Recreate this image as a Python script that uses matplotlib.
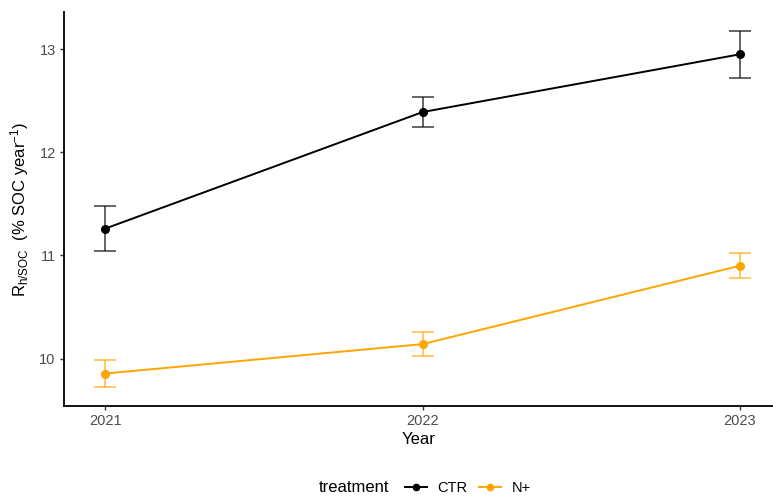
import numpy as np
import matplotlib.pyplot as plt
from matplotlib.lines import Line2D

plt.rcParams['font.family'] = ['Liberation Sans', 'DejaVu Sans']
plt.rcParams['mathtext.fontset'] = 'custom'
plt.rcParams['mathtext.rm'] = 'Liberation Sans'
plt.rcParams['mathtext.it'] = 'Liberation Sans:italic'

# values
years = [2021, 2022, 2023]
ctr_mean = [11.26, 12.39, 12.95]
ctr_se = [0.22, 0.145, 0.23]
nplus_mean = [9.855, 10.14, 10.90]
nplus_se = [0.135, 0.115, 0.12]

ctr_col = "black"
n_col = "#FFA500"

fig = plt.figure(figsize=(7.73, 4.96), dpi=100)
ax = fig.add_axes([64/773, 1-406/496, (773-64)/773, (406-12)/496])

ax.errorbar(years, ctr_mean, yerr=ctr_se, fmt="none", ecolor=ctr_col, alpha=0.65,
            elinewidth=1.3, capsize=8, capthick=1.3)
ax.plot(years, ctr_mean, color=ctr_col, lw=1.4, marker="o", ms=5.5)
ax.errorbar(years, nplus_mean, yerr=nplus_se, fmt="none", ecolor=n_col, alpha=0.65,
            elinewidth=1.3, capsize=8, capthick=1.3)
ax.plot(years, nplus_mean, color=n_col, lw=1.4, marker="o", ms=5.5)

ax.set_xlim(2020.87, 2023.104)
ax.set_ylim(9.54, 13.36)
ax.set_xticks(years)
ax.set_xticklabels([str(y) for y in years])
ax.set_yticks([10, 11, 12, 13])

for s in ["top", "right"]:
    ax.spines[s].set_visible(False)
for s in ["left", "bottom"]:
    ax.spines[s].set_linewidth(1.3)
    ax.spines[s].set_color("black")
ax.tick_params(axis="both", length=3, width=1, color="#333333",
               labelcolor="#4D4D4D", labelsize=10.5, pad=3)

ax.set_xlabel("Year", fontsize=12, labelpad=3)
ax.set_ylabel(r"$\mathregular{R_{h/SOC}}$  (% SOC year$^{-1}$)", fontsize=12, labelpad=6)

handles = [Line2D([], [], color=ctr_col, marker="o", ms=4.5, lw=1.4),
           Line2D([], [], color=n_col, marker="o", ms=4.5, lw=1.4)]
fig.text(319/773, 1-488/496, "treatment", fontsize=12, va="center", ha="left")
fig.legend(handles, ["CTR", "N+"], ncol=2, frameon=False, fontsize=10.5,
           loc="center left", bbox_to_anchor=(399/773, 1-488/496),
           handlelength=1.5, handletextpad=0.75, columnspacing=0.75, borderaxespad=0)

fig.savefig("out.png", dpi=100)
